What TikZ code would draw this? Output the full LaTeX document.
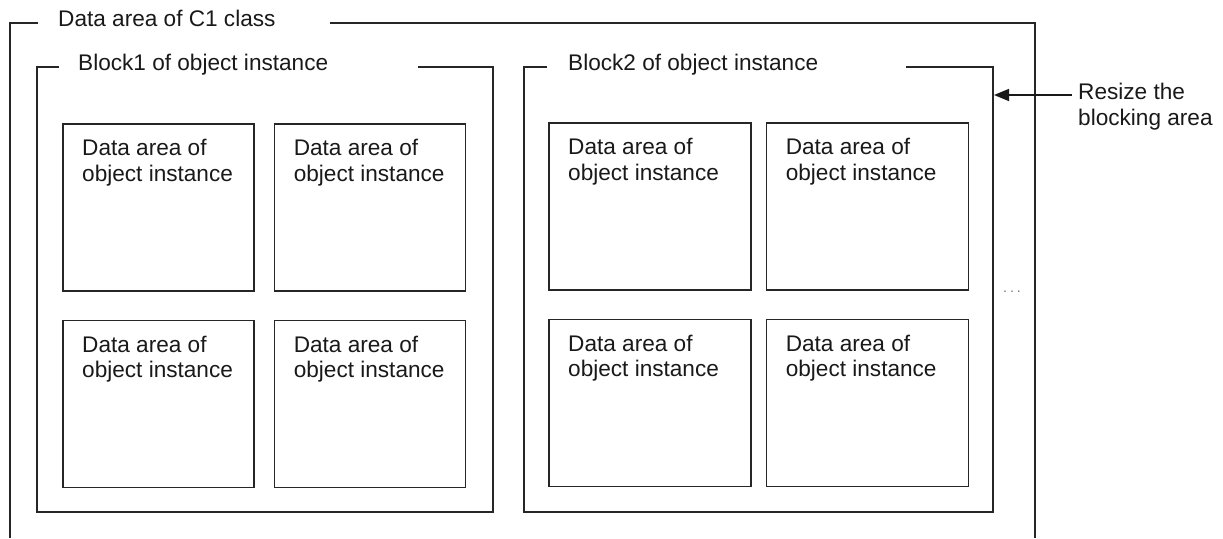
\documentclass[tikz,border=0pt]{standalone}
\usepackage{fontspec}
\setmainfont{Liberation Sans}
\usetikzlibrary{positioning, arrows.meta}

\begin{document}
\begin{tikzpicture}[
    x=1pt, y=-1pt,
    every node/.style={font=\fontsize{22.6}{25.5}\selectfont, text=black!90},
    frame/.style={draw=black!85, line width=1.8pt},
    databox/.style={rectangle, draw=black!85, line width=1.6pt, minimum height=167pt, inner sep=0pt},
    boxtext/.style={anchor=north west, inner sep=0pt, align=left},
    caption/.style={anchor=base west, inner sep=0pt}
]
    \useasboundingbox (0,0) rectangle (1223,538);
    % Data area of the class
    \node[caption] (classtitle) at (58,26) {Data area of C1 class};
    \draw[frame] (38,23) -- (10,23) -- (10,538);
    \draw[frame] (330,23) -- (1035,23) -- (1035,538);
    % Block 1
    \node[caption] (block1title) at (78,70) {Block1 of object instance};
    \draw[frame] (59,67) -- (37,67) -- (37,512) -- (493,512) -- (493,67) -- (418,67);
    \node[databox, minimum width=191pt, anchor=north west] (b1a) at (62,123) {};
    \node[databox, minimum width=191pt, right=19pt of b1a] (b1b) {};
    \node[databox, minimum width=191pt, below=28pt of b1a] (b1c) {};
    \node[databox, minimum width=191pt, right=19pt of b1c] (b1d) {};
    % Block 2
    \node[caption] (block2title) at (568,70) {Block2 of object instance};
    \draw[frame] (547,67) -- (524,67) -- (524,512) -- (993,512) -- (993,67) -- (906,67);
    \node[databox, minimum width=202pt, anchor=north west] (b2a) at (548,122) {};
    \node[databox, minimum width=202pt, right=14pt of b2a] (b2b) {};
    \node[databox, minimum width=202pt, below=28pt of b2a] (b2c) {};
    \node[databox, minimum width=202pt, right=14pt of b2c] (b2d) {};
    % Texts of the boxes
    \foreach \b in {b1a,b1b,b1c,b1d,b2a,b2b,b2c,b2d}
        \node[boxtext] (t-\b) at ([shift={(20pt,-16pt)}]\b.north west) {Data area of\\object instance};
    % Resize
    \node[boxtext] (resize) at (1078,83) {Resize the\\blocking area};
    \coordinate (resizestart) at (1072,95);
    \coordinate (resizetip) at (994,95);
    \draw[draw=black!90, line width=1.6pt, -{Triangle[length=15pt,width=12pt]}] (resizestart) -- (resizetip);
    \node[font=\fontsize{14}{14}\selectfont, text=black!55] (more) at (1012,292) {.\hspace{3pt}.\hspace{3pt}.};
\end{tikzpicture}
\end{document}
